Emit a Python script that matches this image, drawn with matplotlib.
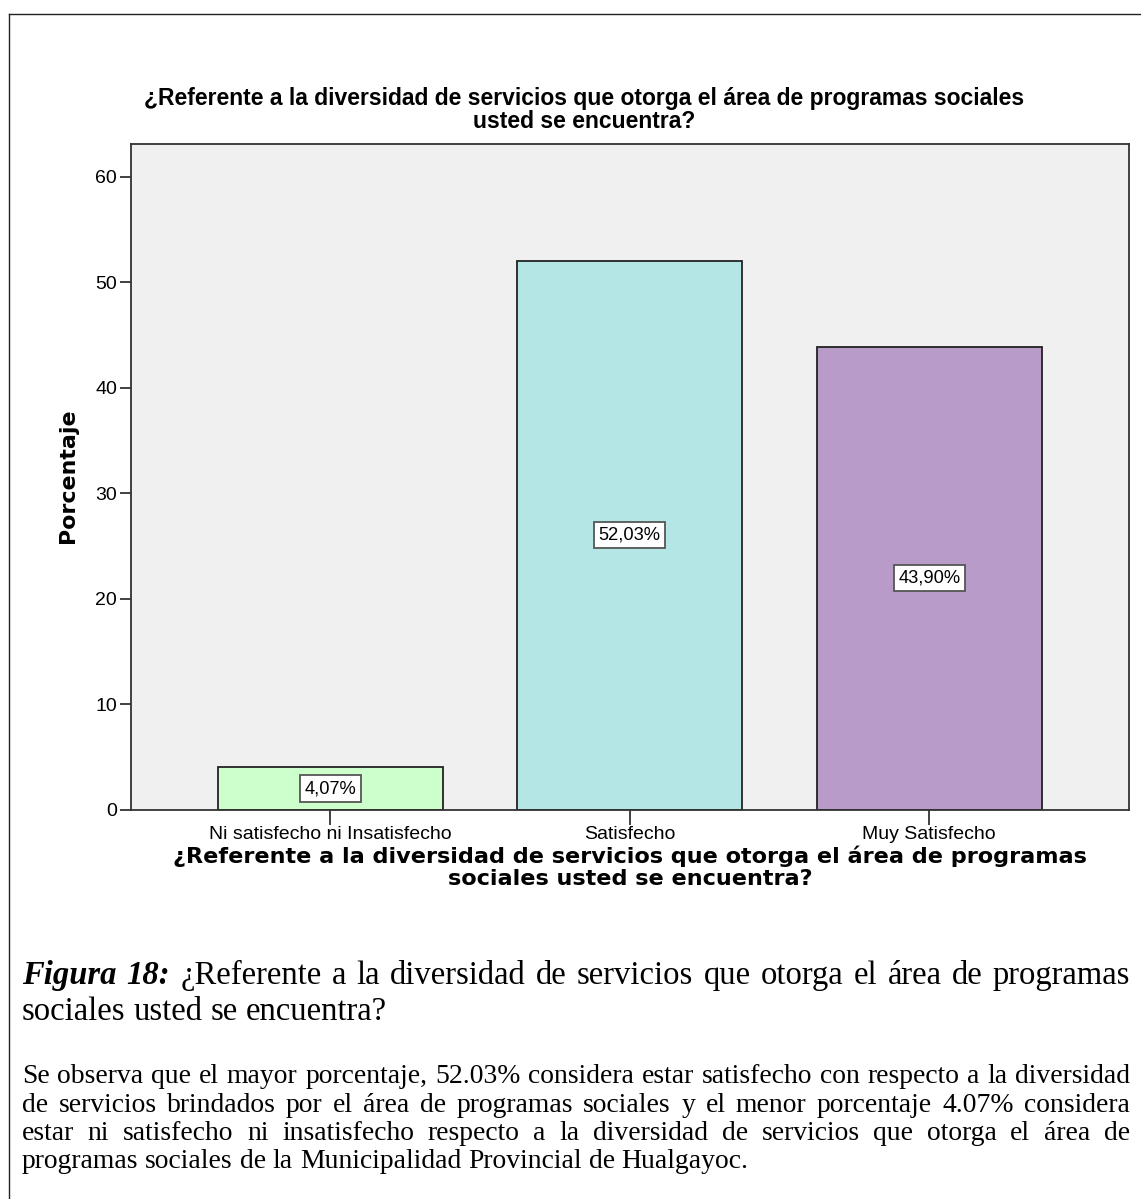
import matplotlib
matplotlib.use("Agg")
import matplotlib.pyplot as plt
from matplotlib.lines import Line2D

W, H = 1141, 1199
DPI = 100

categories = ["Ni satisfecho ni Insatisfecho", "Satisfecho", "Muy Satisfecho"]
percentages = [4.07, 52.03, 43.90]
bar_colors = ["#ccffcc", "#b4e6e6", "#b89bc9"]
yticks = [0, 10, 20, 30, 40, 50, 60]

title_lines = ["¿Referente a la diversidad de servicios que otorga el área de programas sociales",
               "usted se encuentra?"]
xlabel_lines = ["¿Referente a la diversidad de servicios que otorga el área de programas",
                "sociales usted se encuentra?"]
ylabel_text = "Porcentaje"
caption_lead = ["Figura", "18:"]
caption_lines = ["¿Referente a la diversidad de servicios que otorga el área de programas",
                 "sociales usted se encuentra?"]
paragraph_lines = [
    "Se observa que el mayor porcentaje, 52.03% considera estar satisfecho con respecto a la diversidad",
    "de servicios brindados por el área de programas sociales y el menor porcentaje 4.07% considera",
    "estar ni satisfecho ni insatisfecho respecto a la diversidad de servicios que otorga el área de",
    "programas sociales de la Municipalidad Provincial de Hualgayoc.",
]

SANS = "Liberation Sans"
SERIF = "Liberation Serif"
DEJAVU = "DejaVu Sans"


def fx(x):
    return x / W


def fy(y):
    return 1 - y / H


fig = plt.figure(figsize=(W / DPI, H / DPI), dpi=DPI)
fig.patch.set_facecolor("white")
renderer = fig.canvas.get_renderer()


def text_width(s, **props):
    t = fig.text(0, 0, s, **props)
    w = t.get_window_extent(renderer).width
    t.remove()
    return w


def fit_size(s, target_px, **props):
    return 10 * target_px / text_width(s, fontsize=10, **props)


# font sizes
title_fs = 16.5
xlab_fs = fit_size(xlabel_lines[0], 915, family=DEJAVU, weight="bold")
ylab_fs = fit_size(ylabel_text, 135, family=DEJAVU, weight="bold")
tick_fs = fit_size(categories[0], 242, family=SANS)
value_fs = fit_size("52,03%", 62, family=SANS)
para_fs = fit_size(paragraph_lines[0], 1098, family=SERIF)
cap_fs = fit_size(" ".join(caption_lead + [caption_lines[0]]), 1075, family=SERIF)

# outer frame of the figure panel
fig.add_artist(Line2D([fx(9), fx(9)], [fy(14), 0], transform=fig.transFigure,
                      color="#222222", lw=1.0))
fig.add_artist(Line2D([fx(9), 1], [fy(14), fy(14)], transform=fig.transFigure,
                      color="#222222", lw=1.0))

# chart area
ax = fig.add_axes([fx(131), fy(810), (1129 - 131) / W, (810 - 144) / H])
ax.set_facecolor("#f0f0f0")
x = list(range(len(categories)))
ax.bar(x, percentages, width=0.75, color=bar_colors, edgecolor="#222222",
       linewidth=1.3, zorder=2)
ax.set_xlim(-0.665, 2.667)
ax.set_ylim(0, 63.1)
ax.set_yticks(yticks)
ax.set_yticklabels([str(v) for v in yticks], family=SANS, fontsize=tick_fs)
ax.set_xticks(x)
ax.set_xticklabels(categories, family=SANS, fontsize=tick_fs)
ax.tick_params(axis="y", length=8, width=1.3, color="#333333", pad=2)
ax.tick_params(axis="x", length=11, width=1.3, color="#333333", pad=0.5)
for sp in ax.spines.values():
    sp.set_color("#333333")
    sp.set_linewidth(1.3)

for xi, v in zip(x, percentages):
    ax.text(xi, v / 2, f"{v:.2f}%".replace(".", ","), ha="center", va="center",
            family=SANS, fontsize=value_fs, zorder=3,
            bbox=dict(boxstyle="square,pad=0.25", fc="white", ec="#555555", lw=1.3))

# chart title
fig.text(fx(584), fy(98), title_lines[0], ha="center", va="center",
         family=SANS, weight="bold", fontsize=title_fs)
fig.text(fx(584), fy(122), title_lines[1], ha="center", va="center",
         family=SANS, weight="bold", fontsize=title_fs)

# axis titles
fig.text(fx(630), fy(856), xlabel_lines[0], ha="center", va="center",
         family=DEJAVU, weight="bold", fontsize=xlab_fs)
fig.text(fx(630), fy(879), xlabel_lines[1], ha="center", va="center",
         family=DEJAVU, weight="bold", fontsize=xlab_fs)
fig.text(fx(68), fy(476), ylabel_text, rotation=90, ha="center", va="center",
         family=DEJAVU, weight="bold", fontsize=ylab_fs)


def draw_line(words, x0, x1, y_base, justify=True):
    """words: list of (word, props); lays them out between x0 and x1 (pixels)."""
    widths = [text_width(w, **p) for w, p in words]
    p0 = words[0][1]
    space = text_width("a a", **p0) - text_width("aa", **p0)
    if justify and len(words) > 1:
        gap = (x1 - x0 - sum(widths)) / (len(words) - 1)
    else:
        gap = space
    xpos = x0
    for (w, p), wd in zip(words, widths):
        fig.text(fx(xpos), fy(y_base), w, ha="left", va="baseline", **p)
        xpos += wd + gap


reg_cap = dict(family=SERIF, fontsize=cap_fs)
lead_cap = dict(family=SERIF, fontsize=cap_fs, weight="bold", style="italic")
reg_par = dict(family=SERIF, fontsize=para_fs)

X0, X1 = 22, 1130
line1 = [(w, lead_cap) for w in caption_lead] + [(w, reg_cap) for w in caption_lines[0].split()]
draw_line(line1, X0, X1, 984)
draw_line([(w, reg_cap) for w in caption_lines[1].split()], X0, X1, 1020, justify=False)

para_base = [1083, 1112, 1140, 1168]
for i, (ln, yb) in enumerate(zip(paragraph_lines, para_base)):
    last = i == len(paragraph_lines) - 1
    draw_line([(w, reg_par) for w in ln.split()], X0, X1, yb, justify=not last)

fig.savefig("out.png", dpi=DPI, facecolor="white")
